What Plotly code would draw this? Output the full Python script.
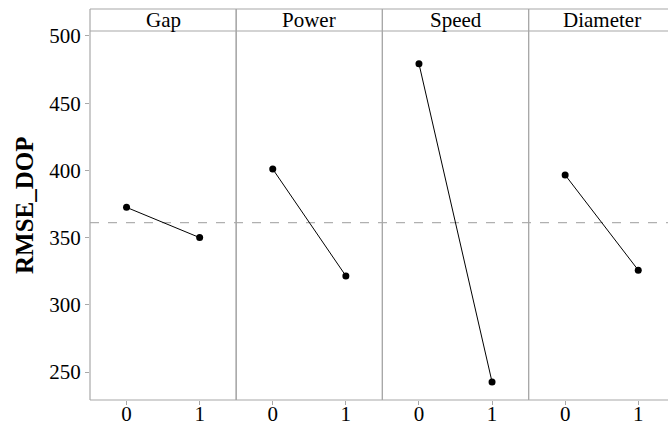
import plotly.graph_objects as go

factors = ["Gap", "Power", "Speed", "Diameter"]
levels = [0, 1]
rmse_gap = [372.5, 350.0]
rmse_power = [401.0, 321.5]
rmse_speed = [479.4, 242.6]
rmse_diameter = [396.6, 325.8]
y_ticks = [250, 300, 350, 400, 450, 500]
y_title = "RMSE_DOP"

series = [rmse_gap, rmse_power, rmse_speed, rmse_diameter]
all_vals = [v for s in series for v in s]
grand_mean = sum(all_vals) / len(all_vals)

W, H = 668, 429
ML, MR, MT, MB = 90, 0, 9, 29
plot_w = W - ML - MR
plot_h = H - MT - MB
panel_px = 146.2
strip_px = 22
ydom_top = (plot_h - strip_px) / plot_h
FONT = "Liberation Serif, Times New Roman, serif"
GRID = "#a8a8a8"

fig = go.Figure()
shapes = []
annotations = []
for i, (name, vals) in enumerate(zip(factors, series)):
    x0px = panel_px * i
    x1px = panel_px * (i + 1)
    d0 = x0px / plot_w
    d1 = min(x1px / plot_w, 1.0)
    vis_w = (d1 - d0) * plot_w
    units = vis_w / panel_px * 2.0
    xa = "xaxis" if i == 0 else f"xaxis{i+1}"
    xref = "x" if i == 0 else f"x{i+1}"
    fig.add_trace(go.Scatter(
        x=levels, y=vals, mode="lines+markers",
        line=dict(color="black", width=1),
        marker=dict(color="black", size=7),
        xaxis=xref, yaxis="y", showlegend=False, hoverinfo="skip"))
    fig.update_layout(**{xa: dict(
        domain=[d0, d1], range=[-0.5, -0.5 + units],
        tickvals=levels, ticktext=[str(l) for l in levels],
        ticks="outside", ticklen=4, tickcolor=GRID, tickwidth=1,
        ticklabelstandoff=-9,
        showline=False, showgrid=False, zeroline=False,
        automargin=False,
        tickfont=dict(family=FONT, size=21, color="black"),
        anchor="y")})
    for px in (x0px, x1px):
        xp = px / plot_w
        shapes.append(dict(type="line", xref="paper", yref="paper",
                           x0=xp, x1=xp, y0=0, y1=1,
                           line=dict(color=GRID, width=1.2)))
    annotations.append(dict(
        text=name, xref="paper", yref="paper",
        x=(x0px + x1px) / 2 / plot_w, y=(ydom_top + 1) / 2,
        xanchor="center", yanchor="middle", showarrow=False,
        font=dict(family=FONT, size=21, color="black")))

for yp in (0, ydom_top, 1):
    shapes.append(dict(type="line", xref="paper", yref="paper",
                       x0=0, x1=1, y0=yp, y1=yp,
                       line=dict(color=GRID, width=1.2)))
shapes.append(dict(type="line", xref="paper", yref="y",
                   x0=0, x1=1, y0=grand_mean, y1=grand_mean,
                   line=dict(color="#b0b0b0", width=1.2, dash="dash"),
                   layer="below"))

annotations.append(dict(
    text=f"<b>{y_title}</b>", xref="paper", yref="paper",
    x=(24 - ML) / plot_w, y=(H - MB - 205) / plot_h,
    xanchor="center", yanchor="middle", textangle=-90, showarrow=False,
    font=dict(family=FONT, size=25, color="black")))

fig.update_layout(
    width=W, height=H,
    margin=dict(l=ML, r=MR, t=MT, b=MB, pad=0, autoexpand=False),
    paper_bgcolor="white", plot_bgcolor="white",
    yaxis=dict(domain=[0, ydom_top], range=[229.2, 503.7],
               tickvals=y_ticks, ticks="outside", ticklen=4,
               tickcolor=GRID, showgrid=False, zeroline=False,
               showline=False, automargin=False,
               tickfont=dict(family=FONT, size=21, color="black")),
    shapes=shapes, annotations=annotations,
)
fig.write_html("out.html")
